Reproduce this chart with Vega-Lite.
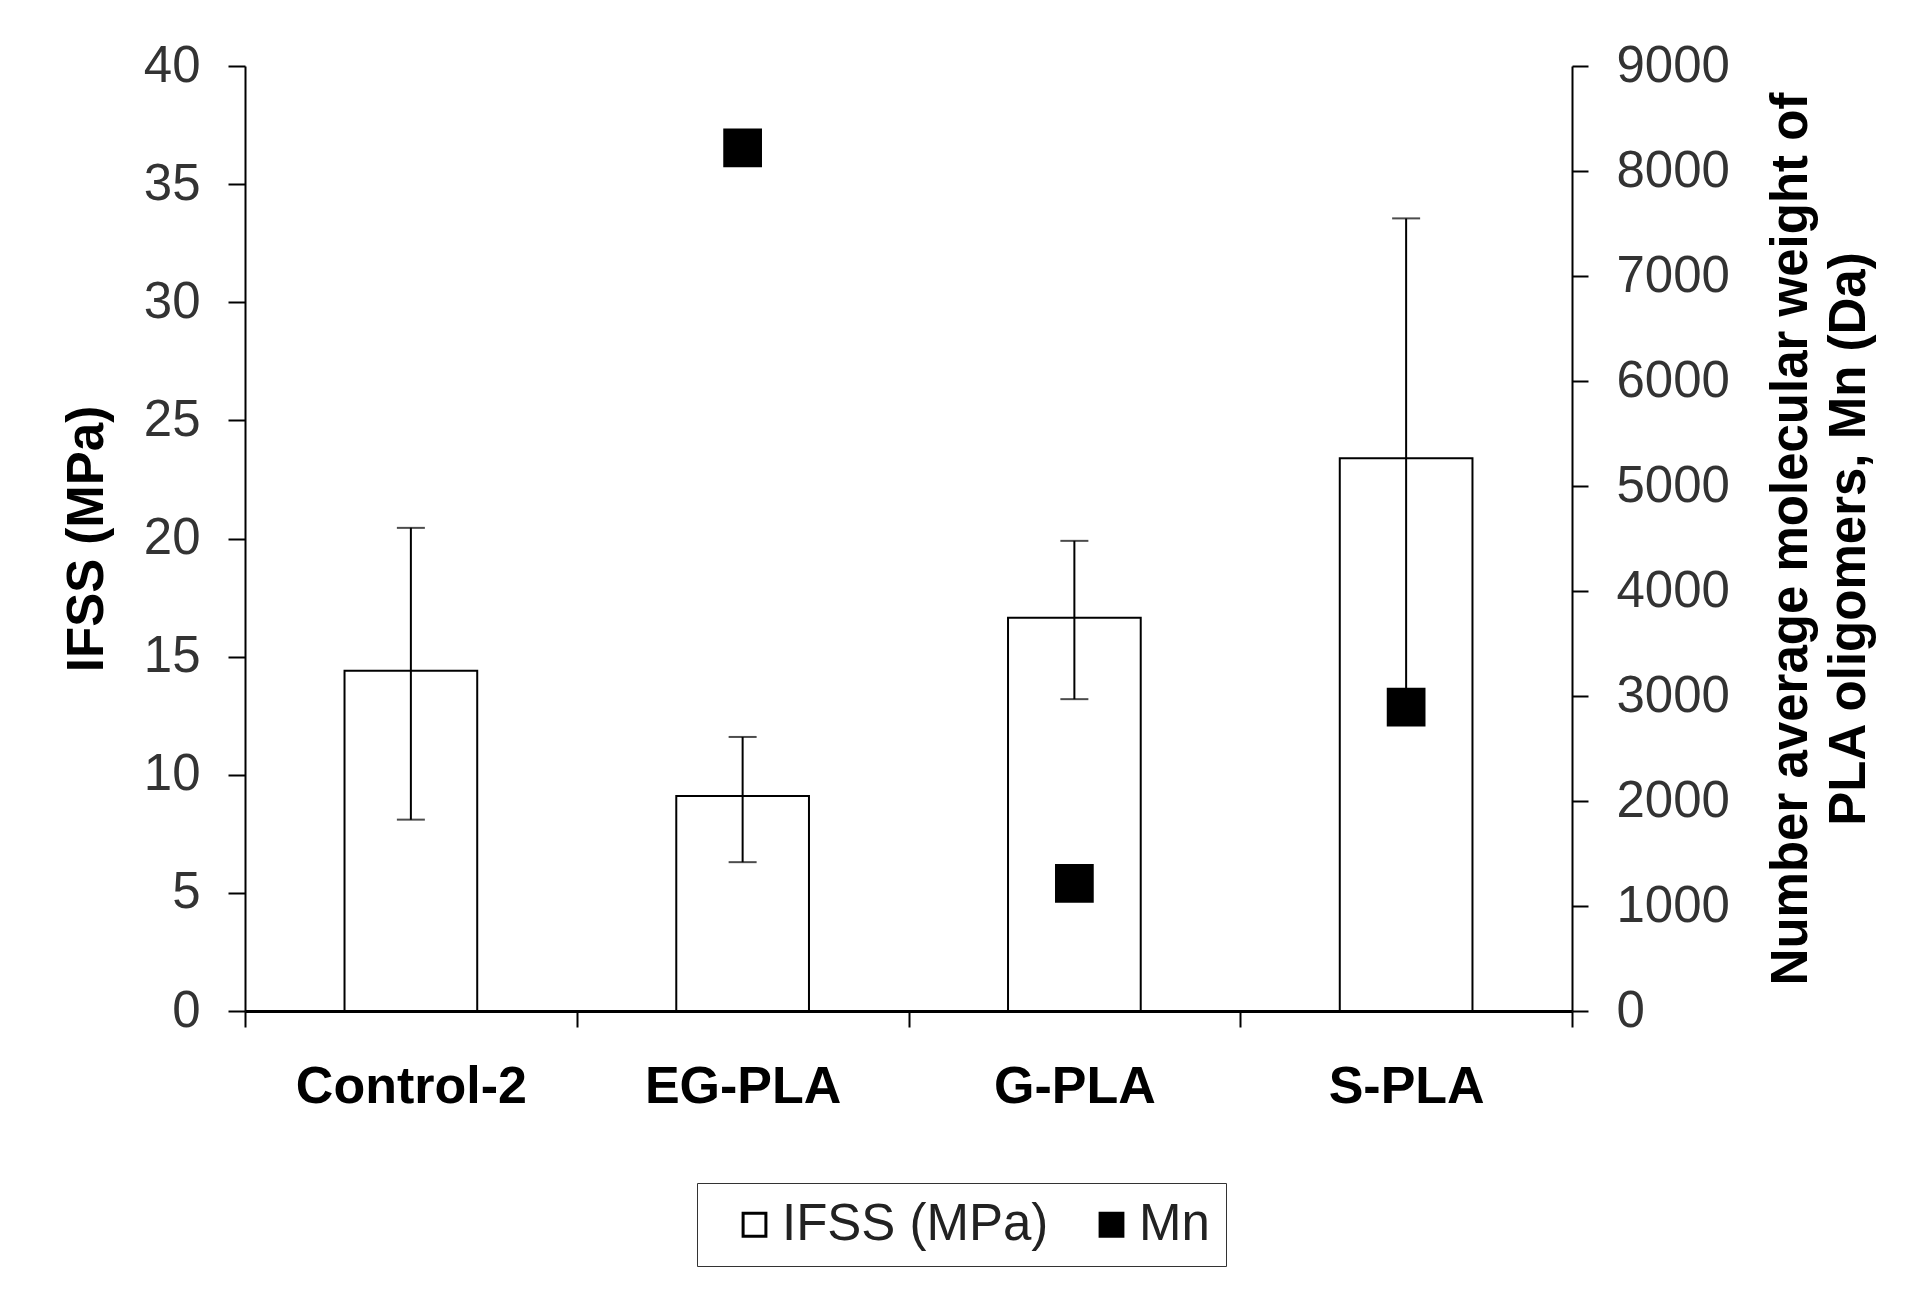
{
  "$schema": "https://vega.github.io/schema/vega-lite/v6.json",
  "width": 1327,
  "height": 945,
  "autosize": "none",
  "padding": {"left": 245, "top": 66, "right": 334, "bottom": 280},
  "background": "white",
  "config": {
    "view": {"stroke": null},
    "font": "Liberation Sans",
    "axis": {"grid": false, "labelFont": "Liberation Sans", "titleFont": "Liberation Sans"},
    "axisLeft": {
      "domainColor": "black",
      "domainWidth": 2,
      "tickColor": "black",
      "tickWidth": 2,
      "tickSize": 17,
      "labelFontSize": 51,
      "labelColor": "#333333",
      "labelPadding": 28,
      "titleFontSize": 51,
      "titleFontWeight": "bold",
      "titleColor": "black",
      "titlePadding": 30
    },
    "axisRight": {
      "domainColor": "black",
      "domainWidth": 2,
      "tickColor": "black",
      "tickWidth": 2,
      "tickSize": 16,
      "labelFontSize": 51,
      "labelColor": "#333333",
      "labelPadding": 28,
      "titleFontSize": 51,
      "titleFontWeight": "bold",
      "titleColor": "black",
      "titleLineHeight": 58,
      "titlePadding": 30,
      "titleAngle": 270
    },
    "axisBottom": {
      "domainColor": "black",
      "domainWidth": 3,
      "tickColor": "black",
      "tickWidth": 2,
      "tickSize": 16,
      "labelFontSize": 52,
      "labelFontWeight": "bold",
      "labelColor": "black",
      "labelPadding": 34,
      "labelLimit": 500
    }
  },
  "data": {
    "values": [
      {"sample": "Control-2", "ifss": 14.4, "lo": 8.1, "hi": 20.45, "mn": null},
      {"sample": "EG-PLA", "ifss": 9.1, "lo": 6.3, "hi": 11.6, "mn": 8220},
      {"sample": "G-PLA", "ifss": 16.65, "lo": 13.2, "hi": 19.9, "mn": 1215},
      {"sample": "S-PLA", "ifss": 23.4, "lo": 13.2, "hi": 33.55, "mn": 2895}
    ]
  },
  "encoding": {
    "x": {
      "field": "sample",
      "type": "nominal",
      "sort": null,
      "scale": {"paddingInner": 0, "paddingOuter": 0},
      "axis": {"title": null, "labelAngle": 0, "tickBand": "extent"}
    }
  },
  "layer": [
    {
      "layer": [
        {
          "mark": {"type": "bar", "width": {"band": 0.4}, "stroke": "black", "strokeWidth": 2},
          "encoding": {
            "y": {
              "field": "ifss",
              "type": "quantitative",
              "title": "IFSS (MPa)",
              "scale": {"domain": [0, 40], "nice": false},
              "axis": {"values": [0, 5, 10, 15, 20, 25, 30, 35, 40]}
            },
            "fill": {
              "datum": "IFSS (MPa)",
              "type": "nominal",
              "scale": {"domain": ["IFSS (MPa)", "Mn"], "range": ["white", "black"]},
              "legend": {
                "title": null,
                "orient": "none",
                "direction": "horizontal",
                "columns": 2,
                "legendX": 452,
                "legendY": 1117,
                "strokeColor": "#333333",
                "padding": 16,
                "columnPadding": 21,
                "labelOffset": 2,
                "symbolOffset": 16,
                "symbolType": "square",
                "symbolSize": 520,
                "symbolStrokeColor": "black",
                "symbolStrokeWidth": 3,
                "labelFontSize": 51,
                "labelFont": "Liberation Sans",
                "labelColor": "#222222",
                "labelLimit": 500
              }
            }
          }
        },
        {
          "mark": {"type": "rule", "stroke": "black", "strokeWidth": 2},
          "encoding": {
            "y": {"field": "lo", "type": "quantitative", "title": "IFSS (MPa)"},
            "y2": {"field": "hi"}
          }
        },
        {
          "mark": {"type": "tick", "size": 28, "thickness": 2, "color": "black"},
          "encoding": {"y": {"field": "lo", "type": "quantitative", "title": "IFSS (MPa)"}}
        },
        {
          "mark": {"type": "tick", "size": 28, "thickness": 2, "color": "black"},
          "encoding": {"y": {"field": "hi", "type": "quantitative", "title": "IFSS (MPa)"}}
        }
      ]
    },
    {
      "mark": {"type": "point", "shape": "square", "filled": true, "size": 1500, "opacity": 1},
      "encoding": {
        "y": {
          "field": "mn",
          "type": "quantitative",
          "title": ["Number average molecular weight of", "PLA oligomers, Mn (Da)"],
          "scale": {"domain": [0, 9000], "nice": false},
          "axis": {
            "orient": "right",
            "values": [0, 1000, 2000, 3000, 4000, 5000, 6000, 7000, 8000, 9000],
            "format": "d"
          }
        },
        "fill": {"datum": "Mn", "type": "nominal"}
      }
    }
  ],
  "resolve": {"scale": {"y": "independent"}}
}
